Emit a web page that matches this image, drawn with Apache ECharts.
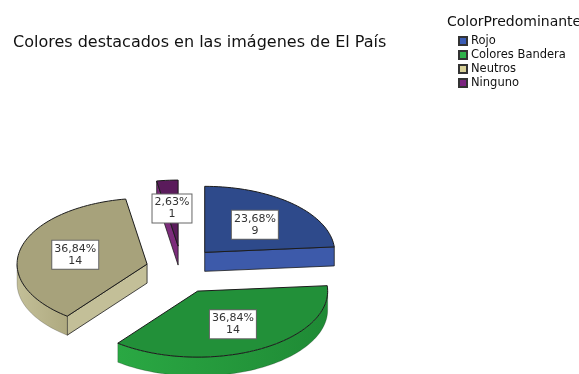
<!DOCTYPE html>
<html>
<head>
<meta charset="utf-8">
<script src="https://cdn.jsdelivr.net/npm/echarts@6/dist/echarts.min.js"></script>
<style>
  html, body { margin: 0; padding: 0; background: #fff; }
  #chart { width: 579px; height: 374px; }
</style>
</head>
<body>
<div id="chart"></div>
<script>
// Counts per predominant colour
const categories = ['Rojo', 'Colores Bandera', 'Neutros', 'Ninguno'];
const counts = [9, 14, 14, 1];

// Face colours of the 3D slices and legend swatches
const topColors = ['#2e4a8b', '#229039', '#a7a27b', '#5a1b5b'];
const sideLight = ['#3d5aaa', '#2aa843', '#c3bf98', '#7c2c7b'];
const sideDark = ['#34509b', '#1f8a35', '#aea97f', '#6a2269'];
const legendColors = ['#3a5cb5', '#2eb24b', '#d8d198', '#7b2480'];

const total = counts.reduce((a, b) => a + b, 0);

// Projection of the tilted pie
const CX = 181, CY = 270;     // pie centre before explosion
const RX = 130, RY = 66;      // ellipse radii of the top face
const DEPTH = 19;             // visible thickness
const EX = 35, EY = 24;       // explosion offset
const LABEL_R = 0.57;

function fmtPct(v) {
  return (v / total * 100).toFixed(2).replace('.', ',') + '%';
}

function makeRender(idx) {
  return function (params, api) {
    const v = api.value(0);
    let before = 0;
    for (let k = 0; k < idx; k++) before += counts[k];
    const a = before / total * Math.PI * 2;
    const b = (before + v) / total * Math.PI * 2;
    const mid = (a + b) / 2;
    const cx = CX + EX * Math.sin(mid);
    const cy = CY - EY * Math.cos(mid);
    const P = (th) => [cx + RX * Math.sin(th), cy - RY * Math.cos(th)];
    const down = (p) => [p[0], p[1] + DEPTH];
    const arc = (t0, t1) => {
      const n = Math.max(2, Math.ceil((t1 - t0) / (Math.PI / 90)));
      const pts = [];
      for (let s = 0; s <= n; s++) pts.push(P(t0 + (t1 - t0) * s / n));
      return pts;
    };
    const children = [];
    const edge = '#1c1c1c';
    // start radial wall
    if (Math.sin(a) < -1e-6) {
      const pa = P(a);
      children.push({
        type: 'polygon', z2: 1,
        shape: { points: [[cx, cy], pa, down(pa), down([cx, cy])] },
        style: { fill: sideLight[idx], stroke: edge, lineWidth: 0.8 }
      });
    }
    // end radial wall
    if (Math.sin(b) > 1e-6) {
      const pb = P(b);
      children.push({
        type: 'polygon', z2: 1,
        shape: { points: [[cx, cy], pb, down(pb), down([cx, cy])] },
        style: { fill: sideLight[idx], stroke: edge, lineWidth: 0.8 }
      });
    }
    // front part of the outer wall
    const w0 = Math.max(a, Math.PI / 2), w1 = Math.min(b, Math.PI * 1.5);
    if (w1 > w0) {
      const topArc = arc(w0, w1);
      const botArc = topArc.map(down).reverse();
      children.push({
        type: 'polygon', z2: 2,
        shape: { points: topArc.concat(botArc) },
        style: {
          fill: {
            type: 'linear', x: 0, y: 0, x2: 1, y2: 0,
            colorStops: [
              { offset: 0, color: sideLight[idx] },
              { offset: 1, color: sideDark[idx] }
            ]
          },
          stroke: 'rgba(0,0,0,0.35)', lineWidth: 0.6
        }
      });
    }
    // top face
    children.push({
      type: 'polygon', z2: 5,
      shape: { points: [[cx, cy]].concat(arc(a, b)) },
      style: { fill: topColors[idx], stroke: edge, lineWidth: 1 }
    });
    // value label
    children.push({
      type: 'text', z2: 10,
      x: cx + LABEL_R * RX * Math.sin(mid),
      y: cy - LABEL_R * RY * Math.cos(mid),
      style: {
        text: fmtPct(v) + '\n' + v,
        fill: '#333',
        font: '11px "DejaVu Sans"',
        lineHeight: 12,
        align: 'center',
        verticalAlign: 'middle',
        backgroundColor: '#fff',
        borderColor: '#666',
        borderWidth: 1,
        padding: [2, 2, 2, 2]
      }
    });
    return { type: 'group', children: children };
  };
}

const series = categories.map((name, i) => ({
  type: 'custom',
  name: name,
  coordinateSystem: 'none',
  itemStyle: { color: legendColors[i], borderColor: '#333', borderWidth: 1 },
  data: [[counts[i]]],
  renderItem: makeRender(i),
  silent: true
}));

const chart = echarts.init(document.getElementById('chart'), null, { renderer: 'canvas' });
chart.setOption({
  animation: false,
  backgroundColor: '#fff',
  title: [
    {
      text: 'Colores destacados en las imágenes de El País',
      left: 8, top: 30,
      textStyle: { fontFamily: 'DejaVu Sans', fontSize: 16, fontWeight: 'normal', color: '#111' }
    },
    {
      text: 'ColorPredominante',
      left: 442, top: 10,
      textStyle: { fontFamily: 'DejaVu Sans', fontSize: 14, fontWeight: 'normal', color: '#111' }
    }
  ],
  legend: {
    orient: 'vertical',
    left: 458, top: 34,
    icon: 'rect',
    itemWidth: 8, itemHeight: 8,
    itemGap: 0,
    selectedMode: false,
    padding: 0,
    textStyle: { fontFamily: 'DejaVu Sans', fontSize: 11.5, color: '#111', lineHeight: 14, padding: [0, 0, 0, -1] },
    data: categories
  },
  series: series
});
</script>
</body>
</html>
